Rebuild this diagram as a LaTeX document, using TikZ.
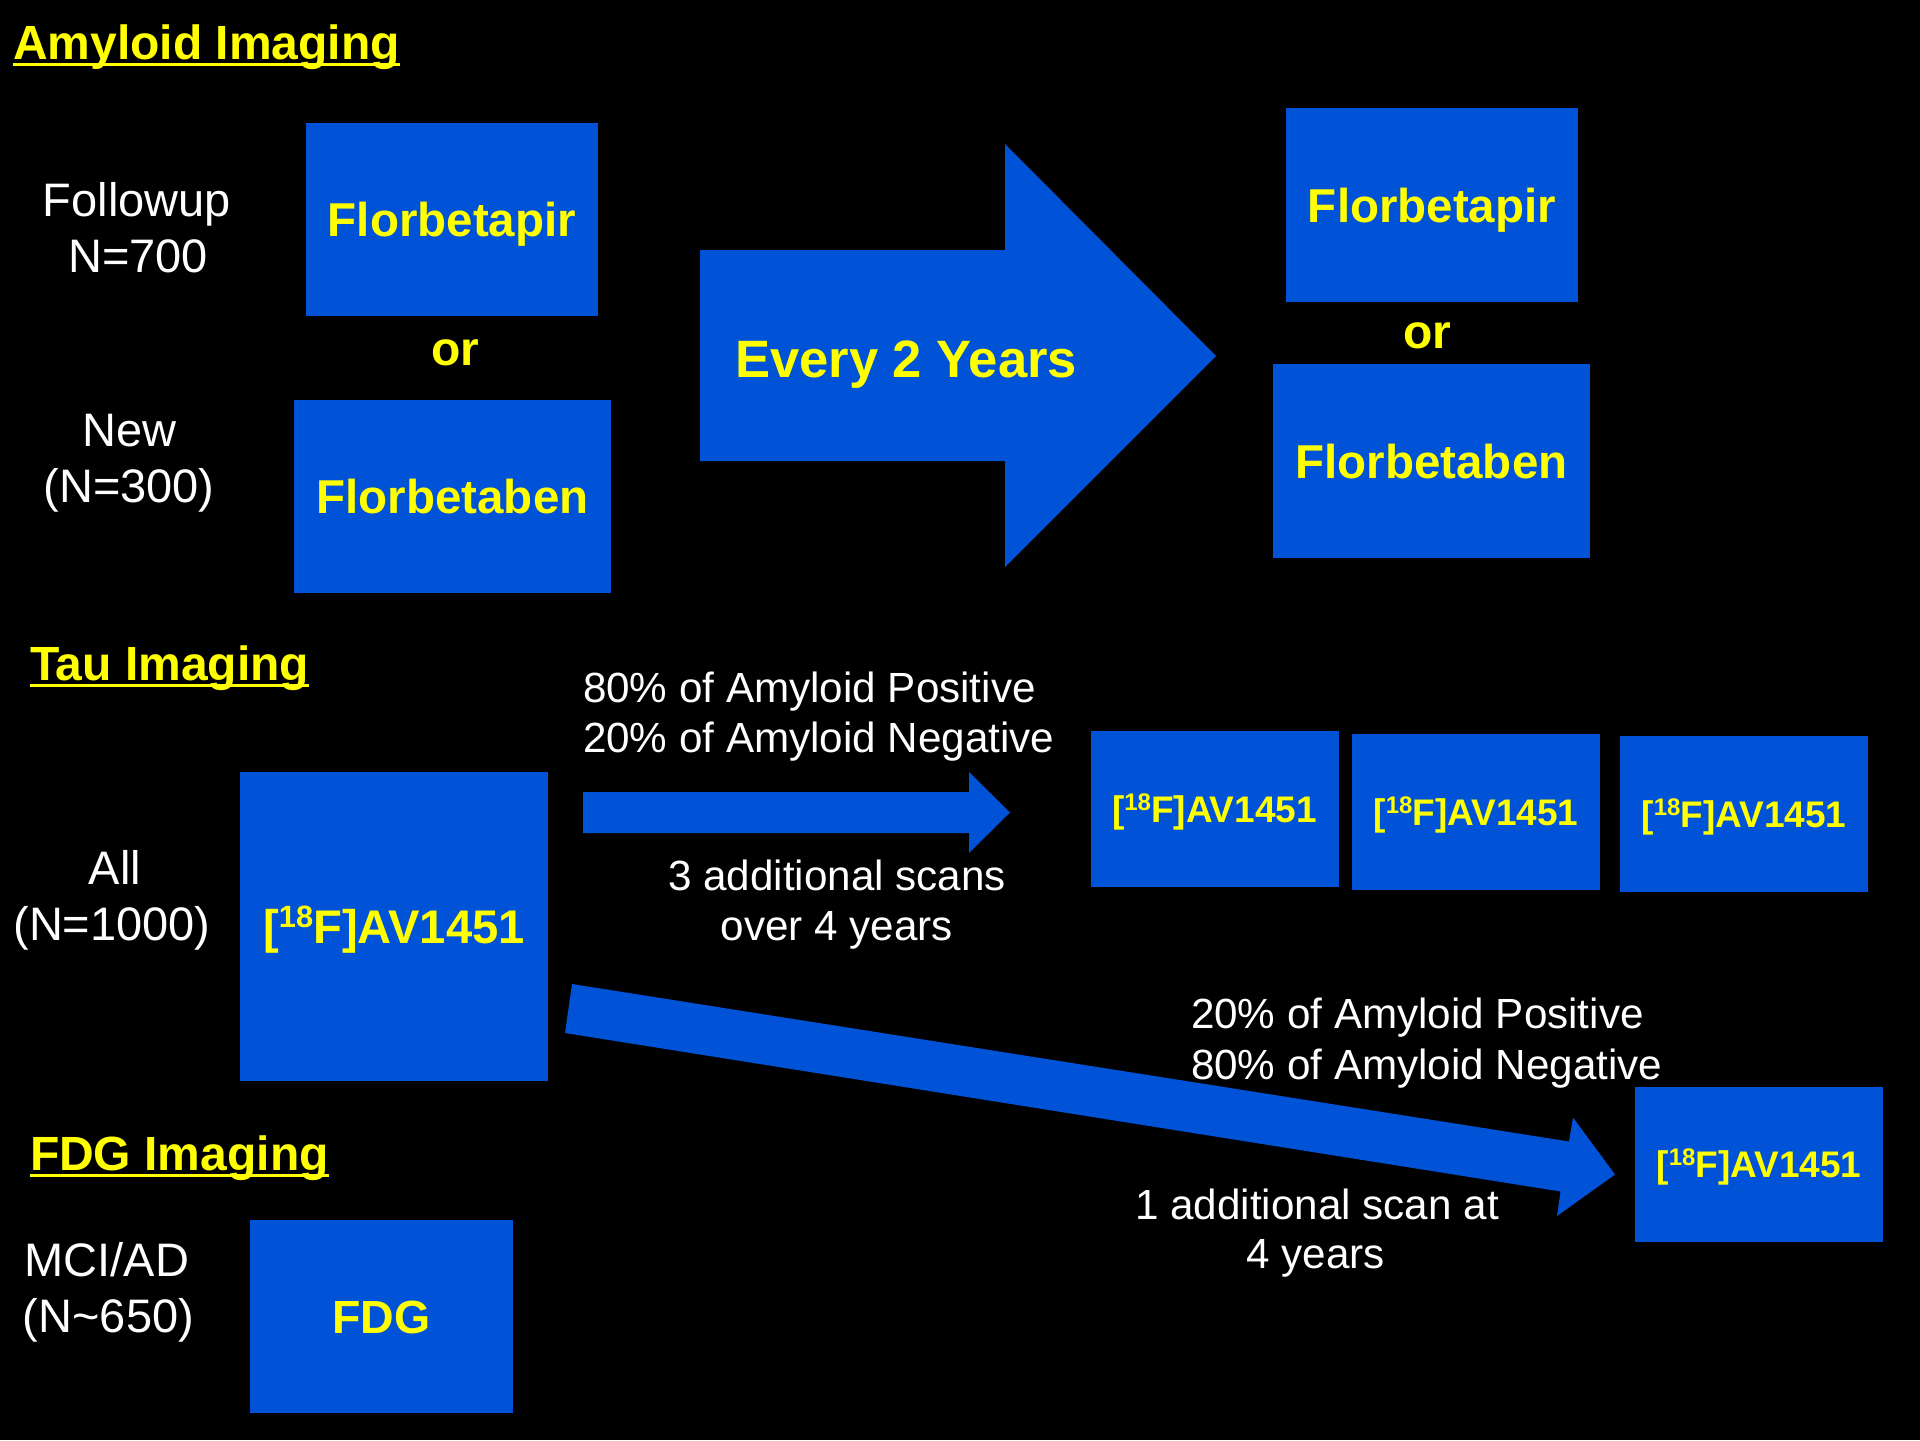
\documentclass[tikz,border=0pt]{standalone}
\usepackage{fontspec}
\setmainfont{Liberation Sans}
\definecolor{boxblue}{RGB}{0,82,214}
\definecolor{ylw}{RGB}{255,255,0}
\newcommand{\AVlab}[1]{[\raisebox{0.33em}{\fontsize{#1}{#1}\selectfont 18}F]AV1451}
\begin{document}
\begin{tikzpicture}[x=0.5pt,y=-0.5pt,
  every node/.style={inner sep=0pt, outer sep=0pt},
  blk/.style={fill=boxblue, draw=none},
  boxtxt/.style={blk, text=ylw, font=\fontsize{23.75}{28}\selectfont\bfseries, text height=17pt, text depth=0pt},
  smallbox/.style={blk, text=ylw, font=\fontsize{18.5}{21}\selectfont\bfseries, text height=13.25pt, text depth=0pt, minimum width=124pt, minimum height=78pt},
  ortxt/.style={text=ylw, font=\fontsize{24}{28}\selectfont\bfseries, anchor=base},
  heading/.style={text=ylw, font=\fontsize{24}{28}\selectfont\bfseries, anchor=base west},
  uline/.style={draw=ylw, line width=1.4pt},
  sidelab/.style={text=white, font=\fontsize{23.5}{28}\selectfont, anchor=base},
  arrlab/.style={text=white, font=\fontsize{21.1}{25}\selectfont},
  bigarrtxt/.style={text=ylw, font=\fontsize{26.3}{30}\selectfont\bfseries, anchor=base west}
]
\fill[black] (0,0) rectangle (1920,1440);
\useasboundingbox (0,0) rectangle (1920,1440);

% block arrows
\fill[boxblue] (700,250) -- (1005,250) -- (1005,144) -- (1216,356) -- (1005,567) -- (1005,461) -- (700,461) -- cycle;
\fill[boxblue] (583,792) -- (969,792) -- (969,772) -- (1010,812.5) -- (969,853) -- (969,833) -- (583,833) -- cycle;
\fill[boxblue] (572,984) -- (1569,1141.5) -- (1573,1117.5) -- (1615,1174.5) -- (1557,1216) -- (1560.5,1191.5) -- (565,1033) -- cycle;

% headings
\node[heading] (amy) at (13,59) {Amyloid Imaging};
\draw[uline] ([yshift=-2.75pt]amy.base west) -- ([yshift=-2.75pt]amy.base east);
\node[heading] (tau) at (30,680) {Tau Imaging};
\draw[uline] ([yshift=-2.9pt]tau.base west) -- ([yshift=-2.9pt]tau.base east);
\node[heading] (fdgh) at (30,1170) {FDG Imaging};
\draw[uline] ([yshift=-2.6pt]fdgh.base west) -- ([yshift=-2.6pt]fdgh.base east);

% side labels
\node[sidelab] (fu1) at (137,216) {Followup};
\node[sidelab] (fu2) at (138,272) {N=700};
\node[sidelab] (nw1) at (129.5,446) {New};
\node[sidelab] (nw2) at (129,502) {(N=300)};
\node[sidelab] (al1) at (115,884) {All};
\node[sidelab] (al2) at (112,940) {(N=1000)};
\node[sidelab] (mc1) at (107,1276) {MCI/AD};
\node[sidelab] (mc2) at (108.5,1332) {(N\textasciitilde 650)};

% amyloid boxes
\node[boxtxt, minimum width=146pt, minimum height=96.5pt] (fbp1) at (452,219.5) {Florbetapir};
\node[ortxt] (or1) at (455,365) {or};
\node[boxtxt, minimum width=158.5pt, minimum height=96.5pt] (fbb1) at (452.5,496.5) {Florbetaben};
\node[bigarrtxt] (every) at (735,377) {Every 2 Years};
\node[boxtxt, minimum width=146pt, minimum height=97pt] (fbp2) at (1432,205) {Florbetapir};
\node[ortxt] (or2) at (1427,348) {or};
\node[boxtxt, minimum width=158.5pt, minimum height=97pt] (fbb2) at (1431.5,461) {Florbetaben};

% tau boxes
\node[blk, text=ylw, font=\fontsize{23.6}{28}\selectfont\bfseries, text height=16.9pt, text depth=0pt, minimum width=154pt, minimum height=154.5pt] (taubox) at (394,926.5) {\AVlab{15.4}};
\node[smallbox] (sa) at (1214.5,809) {\AVlab{12}};
\node[smallbox] (sb) at (1476,812) {\AVlab{12}};
\node[smallbox] (sc) at (1744,814) {\AVlab{12}};
\node[smallbox, minimum height=77.5pt] (sd) at (1759,1164.5) {\AVlab{12}};

% fdg box
\node[boxtxt, font=\fontsize{23.25}{28}\selectfont\bfseries, text height=16.65pt, minimum width=131.5pt, minimum height=96.5pt] (fdg) at (381.5,1316.5) {FDG};

% arrow labels
\node[arrlab, anchor=base west] (l1a) at (583,702.7) {80\% of Amyloid Positive};
\node[arrlab, anchor=base west] (l1b) at (583,752.7) {20\% of Amyloid Negative};
\node[arrlab, anchor=base] (l2a) at (837,890) {3 additional scans};
\node[arrlab, anchor=base] (l2b) at (837,940) {over 4 years};
\node[arrlab, anchor=base west] (l3a) at (1191,1028.5) {20\% of Amyloid Positive};
\node[arrlab, anchor=base west] (l3b) at (1191,1079) {80\% of Amyloid Negative};
\node[arrlab, anchor=base] (l4a) at (1317,1219) {1 additional scan at};
\node[arrlab, anchor=base] (l4b) at (1315.5,1268) {4 years};
\end{tikzpicture}
\end{document}
